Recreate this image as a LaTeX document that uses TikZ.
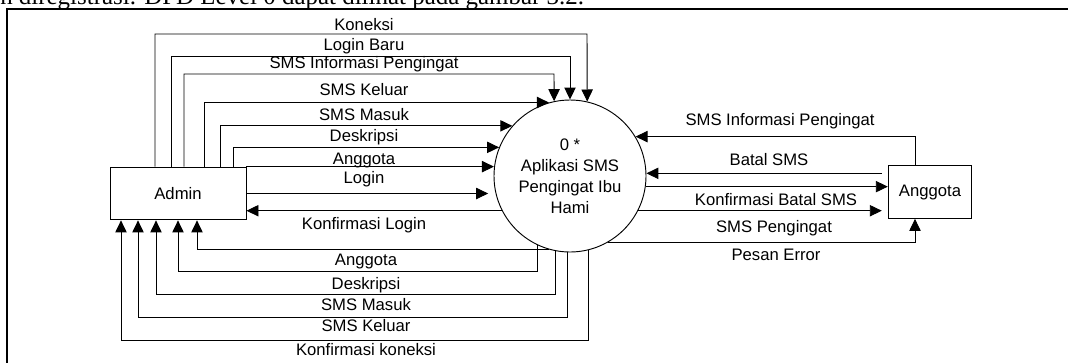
\documentclass[tikz,border=0pt]{standalone}
\usepackage{fontspec}
\setmainfont{Liberation Sans}
\newfontfamily\bodyserif{Liberation Serif}
\usetikzlibrary{arrows.meta}

\begin{document}
\begin{tikzpicture}[
    x=0.75pt, y=-0.75pt,
    entity/.style={rectangle, draw, line width=0.7pt, minimum height=39.6pt, inner sep=0pt},
    process/.style={circle, draw, line width=0.7pt, minimum size=114pt, inner sep=0pt, align=center},
    flow/.style={line width=0.7pt, -{Triangle[length=9pt, width=8.5pt]}},
    lbl/.style={anchor=base, inner sep=0pt},
    font=\fontsize{12.5pt}{15.75pt}\selectfont
]
\useasboundingbox (0,0) rectangle (1068,362);
\clip (0,0) rectangle (1068,362);

% Page frame and text above it
\node[anchor=base west, inner sep=0pt] (bodytext) at (0,4.5) {\bodyserif\fontsize{18.7pt}{22pt}\selectfont n diregistrasi. DFD Level 0 dapat dilihat pada gambar 3.2.};
\draw[line width=1.5pt] (7,400) |- (1100,9);

% Entities and process
\node[entity, minimum width=102pt] (admin) at (178,193.5) {Admin};
\node[process] (proc) at (570,176) {0 *\\Aplikasi SMS\\Pengingat Ibu\\Hami};
\node[entity, minimum width=62.6pt] (anggota) at (930,192) {Anggota};

% Admin to process
\draw[flow] (admin.north -| 155,0) |- (587,34) -- (proc.77);
\draw[flow] (admin.north -| 171,0) |- (570,56) -- (proc.90);
\draw[flow] (admin.north -| 184,0) |- (554,74) -- (proc.102);
\draw[flow] (admin.north -| 204,0) |- (proc.106);
\draw[flow] (admin.north -| 220,0) |- (proc.139);
\draw[flow] (admin.north -| 233,0) |- (proc.158);
\draw[flow] (admin.north east) -- (admin.north east -| proc.174);
\draw[flow, shorten >=5.5pt] (admin.east) -- (admin.east -| proc.193);

% Process to admin
\draw[flow] (proc.207) -- (proc.207 -| admin.east);
\draw[flow] (proc.-106) -| (admin.south -| 197,0);
\draw[flow] (proc.-115) |- (178,271) -- (admin.south -| 178,0);
\draw[flow] (proc.-101) |- (156,294) -- (admin.south -| 156,0);
\draw[flow] (proc.-92) |- (138,317) -- (admin.south -| 138,0);
\draw[flow] (proc.-76) |- (121,340) -- (admin.south -| 121,0);

% Process and anggota
\draw[flow] (anggota.north -| 915,0) |- (proc.31);
\draw[flow, shorten <=4.5pt] (anggota.west |- proc.2) -- (proc.2);
\draw[flow] (proc.-8) -- (proc.-8 -| anggota.west);
\draw[flow, shorten >=4.5pt] (proc.-27) -- (proc.-27 -| anggota.west);
\draw[flow] (proc.-60) -| (anggota.south -| 915,0);

% Labels
\node[lbl] (t1) at (364,30) {Koneksi};
\node[lbl] (t2) at (364,50) {Login Baru};
\node[lbl] (t3) at (364,68) {SMS Informasi Pengingat};
\node[lbl] (t4) at (364,95) {SMS Keluar};
\node[lbl] (t5) at (364,120) {SMS Masuk};
\node[lbl] (t6) at (364,141) {Deskripsi};
\node[lbl] (t7) at (364,164) {Anggota};
\node[lbl] (t8) at (364,183) {Login};
\node[lbl] (t9) at (364,229) {Konfirmasi Login};
\node[lbl] (b1) at (366,265) {Anggota};
\node[lbl] (b2) at (366,289) {Deskripsi};
\node[lbl] (b3) at (366,310) {SMS Masuk};
\node[lbl] (b4) at (366,331) {SMS Keluar};
\node[lbl] (b5) at (366,355) {Konfirmasi koneksi};
\node[lbl] (r1) at (780,125) {SMS Informasi Pengingat};
\node[lbl] (r2) at (769,165) {Batal SMS};
\node[lbl] (r3) at (776,205) {Konfirmasi Batal SMS};
\node[lbl] (r4) at (774,232) {SMS Pengingat};
\node[lbl] (r5) at (776,260) {Pesan Error};

\end{tikzpicture}
\end{document}
